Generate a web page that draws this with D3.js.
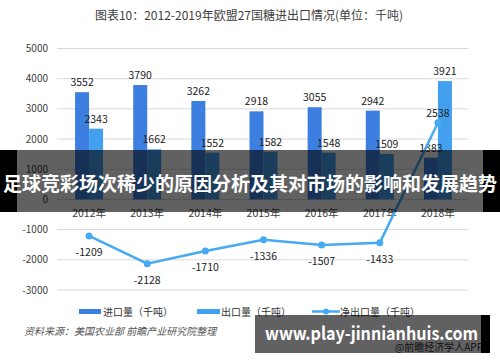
<!DOCTYPE html>
<html>
<head>
<meta charset="utf-8">
<script src="https://cdn.jsdelivr.net/npm/d3@7"></script>
<style>
  body { margin: 0; background: #fff; }
  svg { display: block; font-family: "Noto Sans CJK SC", "Noto Sans", sans-serif; }
</style>
</head>
<body>
<svg width="500" height="362"></svg>
<script>
// data
const years = ['2012年', '2013年', '2014年', '2015年', '2016年', '2017年', '2018年'];
const imports = [3552, 3790, 3262, 2918, 3055, 2942, 1383];
const exports = [2343, 1662, 1552, 1582, 1548, 1509, 3921];
const netExports = [-1209, -2128, -1710, -1336, -1507, -1433, 2538];
const yTicks = [5000, 4000, 3000, 2000, 1000, 0, -1000, -2000, -3000];
const legendLabels = ['进口量（千吨）', '出口量（千吨）', '净出口量（千吨）'];

const importColor = '#3d7fe0';
const exportColor = '#42a0ee';
const netColor = '#45aaf2';

const svg = d3.select('svg');

// title
svg.append('text')
    .attr('x', 249).attr('y', 20)
    .attr('text-anchor', 'middle')
    .attr('font-size', 12)
    .attr('fill', '#404040')
    .text('图表10：2012-2019年欧盟27国糖进出口情况(单位：千吨)');

const x = d3.scaleBand().domain(years).range([60, 467]);
const y = d3.scaleLinear().domain([-3000, 5000]).range([290, 48.5]);
const barW = 14;

// grid
svg.append('g').selectAll('line')
    .data(yTicks)
    .join('line')
    .attr('x1', 57).attr('x2', 468)
    .attr('y1', d => y(d)).attr('y2', d => y(d))
    .attr('stroke', '#d9d9d9')
    .attr('stroke-width', 1);

svg.append('g').selectAll('text')
    .data(yTicks)
    .join('text')
    .attr('x', 48).attr('y', d => y(d) + 3.5)
    .attr('text-anchor', 'end')
    .attr('font-size', 10)
    .attr('fill', '#404040')
    .text(d => d);

// bars
const cx = d => x(d) + x.bandwidth() / 2;

svg.append('g').selectAll('rect')
    .data(years)
    .join('rect')
    .attr('x', d => cx(d) - barW)
    .attr('width', barW)
    .attr('y', (d, i) => y(imports[i]))
    .attr('height', (d, i) => y(0) - y(imports[i]))
    .attr('fill', importColor);

svg.append('g').selectAll('rect')
    .data(years)
    .join('rect')
    .attr('x', d => cx(d))
    .attr('width', barW)
    .attr('y', (d, i) => y(exports[i]))
    .attr('height', (d, i) => y(0) - y(exports[i]))
    .attr('fill', exportColor);

// bar labels
svg.append('g').selectAll('text')
    .data(years)
    .join('text')
    .attr('x', d => cx(d) - barW / 2)
    .attr('y', (d, i) => y(imports[i]) - 6)
    .attr('text-anchor', 'middle')
    .attr('font-size', 10.5)
    .attr('fill', '#222')
    .text((d, i) => imports[i]);

svg.append('g').selectAll('text')
    .data(years)
    .join('text')
    .attr('x', d => cx(d) + barW / 2)
    .attr('y', (d, i) => y(exports[i]) - 6)
    .attr('text-anchor', 'middle')
    .attr('font-size', 10.5)
    .attr('fill', '#222')
    .text((d, i) => exports[i]);

// category labels
svg.append('g').selectAll('text')
    .data(years)
    .join('text')
    .attr('x', d => cx(d))
    .attr('y', y(0) + 18)
    .attr('text-anchor', 'middle')
    .attr('font-size', 10.5)
    .attr('fill', '#404040')
    .text(d => d);

// net export line
const line = d3.line()
    .x((d, i) => cx(years[i]))
    .y(d => y(d));

svg.append('path')
    .datum(netExports)
    .attr('d', line)
    .attr('fill', 'none')
    .attr('stroke', netColor)
    .attr('stroke-width', 2.5);

svg.append('g').selectAll('circle')
    .data(netExports)
    .join('circle')
    .attr('cx', (d, i) => cx(years[i]))
    .attr('cy', d => y(d))
    .attr('r', 3.5)
    .attr('fill', netColor);

svg.append('g').selectAll('text')
    .data(netExports)
    .join('text')
    .attr('x', (d, i) => cx(years[i]))
    .attr('y', d => d > 0 ? y(d) - 6 : y(d) + 20)
    .attr('text-anchor', 'middle')
    .attr('font-size', 10.5)
    .attr('fill', '#222')
    .text(d => d);

// legend
const legend = svg.append('g');
legend.append('rect').attr('x', 79).attr('y', 309).attr('width', 22).attr('height', 5).attr('fill', importColor);
legend.append('rect').attr('x', 197).attr('y', 309).attr('width', 23).attr('height', 5).attr('fill', exportColor);
legend.append('line').attr('x1', 312).attr('x2', 340).attr('y1', 311.5).attr('y2', 311.5)
    .attr('stroke', netColor).attr('stroke-width', 2.5);
legend.append('circle').attr('cx', 326).attr('cy', 311.5).attr('r', 3).attr('fill', netColor);
legend.selectAll('text')
    .data(legendLabels)
    .join('text')
    .attr('x', (d, i) => [103, 221, 340][i])
    .attr('y', 315.5)
    .attr('font-size', 10)
    .attr('fill', '#333')
    .text(d => d);

// source
svg.append('text')
    .attr('x', 24).attr('y', 335)
    .attr('font-size', 10)
    .attr('font-style', 'italic')
    .attr('fill', '#555')
    .text('资料来源：美国农业部 前瞻产业研究院整理');

svg.append('text')
    .attr('x', 483).attr('y', 351)
    .attr('text-anchor', 'end')
    .attr('font-size', 10)
    .attr('fill', '#333')
    .text('@前瞻经济学人APP');

// overlay banner across the middle
const banner = svg.append('g');
banner.append('rect').attr('x', 0).attr('y', 150).attr('width', 17).attr('height', 62).attr('fill', '#000');
banner.append('rect').attr('x', 483).attr('y', 150).attr('width', 17).attr('height', 62).attr('fill', '#000');
banner.append('rect').attr('x', 17).attr('y', 150).attr('width', 466).attr('height', 62).attr('fill', 'rgba(0,0,0,0.62)');
banner.append('text')
    .attr('x', 250).attr('y', 191)
    .attr('text-anchor', 'middle')
    .attr('font-size', 19)
    .attr('font-weight', 'bold')
    .attr('fill', '#fff')
    .attr('textLength', 494)
    .attr('lengthAdjust', 'spacingAndGlyphs')
    .text('足球竞彩场次稀少的原因分析及其对市场的影响和发展趋势');

// overlay url box at bottom right
const urlBox = svg.append('g');
urlBox.append('rect').attr('x', 255).attr('y', 315).attr('width', 226).attr('height', 38).attr('fill', 'rgba(0,0,0,0.62)');
urlBox.append('rect').attr('x', 481).attr('y', 315).attr('width', 9).attr('height', 38).attr('fill', '#000');
urlBox.append('text')
    .attr('x', 265).attr('y', 340)
    .attr('font-size', 18)
    .attr('font-weight', 'bold')
    .attr('fill', '#fff')
    .attr('textLength', 213)
    .attr('lengthAdjust', 'spacingAndGlyphs')
    .text('www.play-jinnianhuis.com');
</script>
</body>
</html>
